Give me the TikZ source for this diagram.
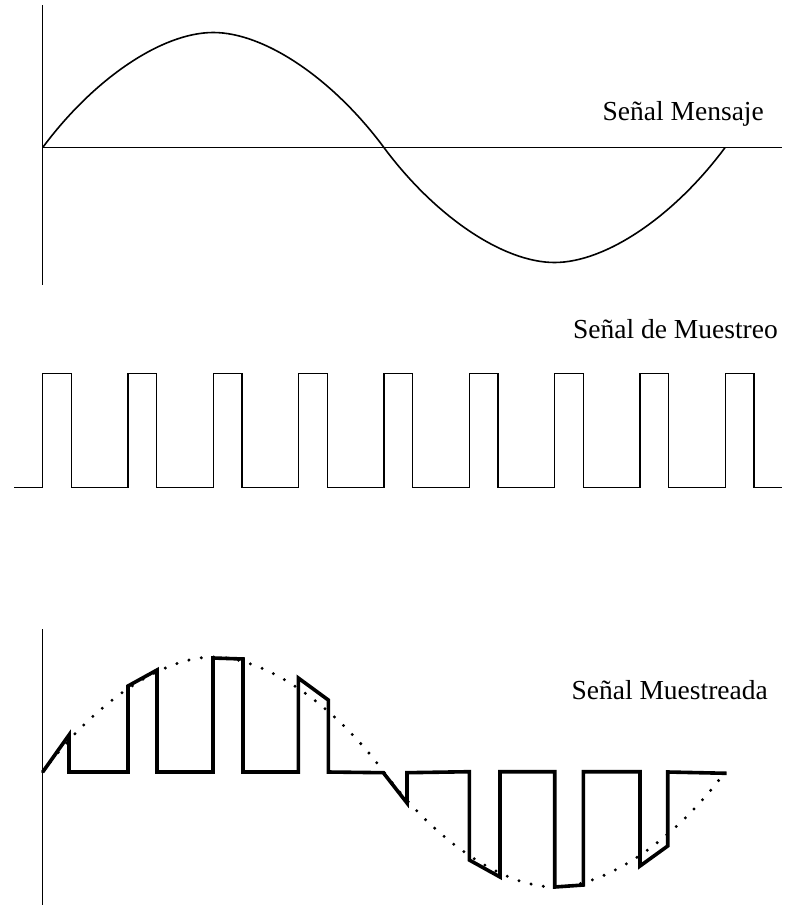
\documentclass[tikz,border=0pt]{standalone}
\usepackage{fontspec}
\setmainfont{Liberation Serif}
\begin{document}
\begin{tikzpicture}[x=1bp,y=-1bp,
  axisline/.style={line width=1.1bp,black},
  waveline/.style={line width=1.6bp,black},
  pulseline/.style={line width=1.3bp,black,line join=miter},
  sampled/.style={line width=3.6bp,black,line join=miter},
  dotcurve/.style={line width=3.3bp,black,line cap=round,dash pattern=on 0bp off 12.5bp},
  lbl/.style={font=\fontsize{27.5bp}{33bp}\selectfont,anchor=base east,inner sep=0pt}]
\useasboundingbox (0,0) rectangle (787,907);
% ---------- top panel: message signal ----------
\draw[axisline] (42.7,5) -- (42.7,285);
\draw[axisline] (42.7,147.5) -- (782,147.5);
\def\c{147.5}
\draw[waveline] (42.7,\c) .. controls (93.9,{\c-69}) and (162.1,{\c-115}) .. (213.3,{\c-115})
  .. controls (264.5,{\c-115}) and (332.7,{\c-69}) .. (383.9,\c)
  .. controls (435.1,{\c+69}) and (503.3,{\c+115}) .. (554.5,{\c+115})
  .. controls (605.7,{\c+115}) and (673.9,{\c+69}) .. (725.1,\c);
\node[lbl] (msg) at (764,120.7) {Señal Mensaje};
% ---------- middle panel: sampling signal ----------
\node[lbl] (samp) at (778,338) {Señal de Muestreo};
\draw[pulseline] (14,487.7)
  \foreach \k in {0,...,8}{
    -- ({42.7+85.33*\k},487.7) -- ({42.7+85.33*\k},373.7)
    -- ({71.3+85.33*\k},373.7) -- ({71.3+85.33*\k},487.7)}
  -- (782,487.7);
% ---------- bottom panel: sampled signal ----------
\draw[axisline] (42.7,629) -- (42.7,905);
\def\d{772}
\draw[dotcurve] (42.7,\d) .. controls (93.9,{\d-69}) and (162.1,{\d-115}) .. (213.3,{\d-115})
  .. controls (264.5,{\d-115}) and (332.7,{\d-69}) .. (383.9,\d)
  .. controls (435.1,{\d+69}) and (503.3,{\d+115}) .. (554.5,{\d+115})
  .. controls (605.7,{\d+115}) and (673.9,{\d+69}) .. (725.1,\d);
\draw[sampled] (42.7,772) -- (69,735) -- (69,772) -- (128,772) -- (128,686) -- (157,670)
  -- (157,772) -- (213,772) -- (213,658) -- (243,659) -- (243,772) -- (298.3,772)
  -- (298.3,678) -- (328.3,700) -- (328.3,772) -- (383.3,772.7) -- (407,803)
  -- (407,772.7) -- (469.3,771.7) -- (469.3,860) -- (500,877) -- (500,771.7)
  -- (554.7,771.7) -- (554.7,887) -- (583.3,885) -- (583.3,771.7) -- (640,771.7)
  -- (640,866) -- (667.7,846) -- (667.7,772) -- (726.7,773.3);
\node[lbl] (smp) at (768,699) {Señal Muestreada};
\end{tikzpicture}
\end{document}
